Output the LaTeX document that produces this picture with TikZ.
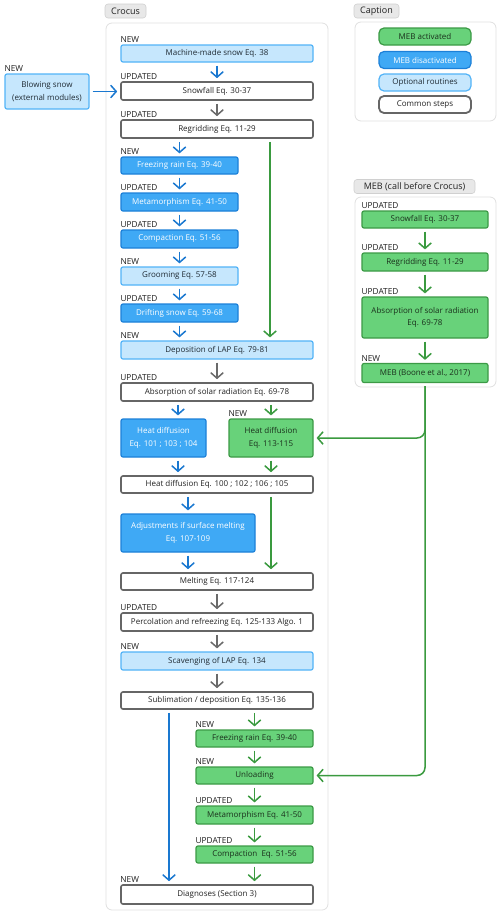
\documentclass[tikz,border=0pt]{standalone}
\usepackage{fontspec}
\setmainfont{Open Sans}
\usetikzlibrary{arrows.meta}
\definecolor{gfill}{HTML}{68D27A}
\definecolor{gborder}{HTML}{3C9A46}
\definecolor{garrow}{HTML}{3A9A3F}
\definecolor{gtext}{HTML}{1A301C}
\definecolor{bfill}{HTML}{3FA9F5}
\definecolor{bborder}{HTML}{1C80D8}
\definecolor{barrow}{HTML}{1A78D0}
\definecolor{lbfill}{HTML}{C6E7FD}
\definecolor{lbborder}{HTML}{52B3F7}
\definecolor{ltext}{HTML}{1F2A33}
\definecolor{cgray}{HTML}{666666}
\definecolor{karrow}{HTML}{6A6A6A}
\definecolor{ctext}{HTML}{222222}
\definecolor{contc}{HTML}{E0E0E0}
\definecolor{tabfill}{HTML}{E8E8E8}
\definecolor{tabdraw}{HTML}{D0D0D0}
\definecolor{tagc}{HTML}{1E1E1E}
\begin{document}
\begin{tikzpicture}[x=1pt,y=-1pt,
  box/.style={rectangle, rounded corners=2pt, inner sep=1pt, align=center,
    font=\fontsize{8}{12.5}\selectfont, minimum height=18pt},
  cbox/.style={box, draw=cgray, line width=1.6pt, fill=white, text=ctext},
  bbox/.style={box, draw=bborder, line width=1.2pt, fill=bfill, text=white},
  lbbox/.style={box, draw=lbborder, line width=1.2pt, fill=lbfill, text=ltext},
  gbox/.style={box, draw=gborder, line width=1.2pt, fill=gfill, text=gtext},
  tag/.style={anchor=south west, inner sep=0pt, font=\fontsize{8.3}{9}\selectfont, text=tagc, yshift=1.6pt},
  tab/.style={rectangle, rounded corners=3pt, draw=tabdraw, fill=tabfill, line width=0.6pt,
    inner sep=1pt, font=\fontsize{9}{10}\selectfont, text=ctext, minimum height=14pt},
  cont/.style={draw=contc, line width=0.8pt, fill=white, rounded corners=6pt},
  arr/.style={-{Straight Barb[length=5.5pt,width=12.5pt]}, line width=1.5pt, shorten <=3pt, shorten >=3pt},
  barr/.style={arr, draw=barrow},
  garr/.style={arr, draw=garrow},
  karr/.style={arr, draw=karrow},
  leg/.style={rounded corners=5pt, minimum width=92pt, minimum height=17pt}
]
\useasboundingbox (0,0) rectangle (500,916);

% containers
\draw[cont] (106,23) rectangle (328,910);
\draw[cont] (355,22) rectangle (496,121);
\draw[cont] (355,197) rectangle (496,387);

% tabs
\node[tab, minimum width=41pt] (tcro) at (125.5,11) {Crocus};
\node[tab, minimum width=45pt] (tcap) at (376.5,11) {Caption};
\node[tab, minimum width=121pt] (tmeb) at (414.5,186.5) {MEB (call before Crocus)};

% coordinates for vertical arrows
\coordinate (cx) at (217,0);
\coordinate (gx) at (270,0);
\coordinate (hx) at (178,0);
\coordinate (sx) at (169,0);

% legend
\node[gbox, leg] (lg1) at (425,36.5) {MEB activated};
\node[bbox, leg] (lg2) at (425,60) {MEB disactivated};
\node[lbbox, leg] (lg3) at (425,82.5) {Optional routines};
\node[cbox, leg, line width=1.8pt] (lg4) at (425,104.5) {Common steps};

% blowing snow
\node[lbbox, minimum width=84pt, minimum height=35pt] (blow) at (47,91.5) {Blowing snow\\(external modules)};
\node[tag] at (blow.north west) {NEW};

% Crocus main column
\node[lbbox, minimum width=192pt, minimum height=17pt] (mms) at (217,53.5) {Machine-made snow Eq. 38};
\node[tag] at (mms.north west) {NEW};
\node[cbox, minimum width=192pt] (snow) at (217,91) {Snowfall Eq. 30-37};
\node[tag] at (snow.north west) {UPDATED};
\node[cbox, minimum width=192pt] (regrid) at (217,129) {Regridding Eq. 11-29};
\node[tag] at (regrid.north west) {UPDATED};
\node[bbox, minimum width=117pt, minimum height=17pt] (frz) at (179.5,165.5) {Freezing rain Eq. 39-40};
\node[tag] at (frz.north west) {NEW};
\node[bbox, minimum width=117pt] (meta) at (179.5,202) {Metamorphism Eq. 41-50};
\node[tag] at (meta.north west) {UPDATED};
\node[bbox, minimum width=117pt] (comp) at (179.5,239) {Compaction Eq. 51-56};
\node[tag] at (comp.north west) {UPDATED};
\node[lbbox, minimum width=117pt] (groom) at (179.5,276) {Grooming Eq. 57-58};
\node[tag] at (groom.north west) {NEW};
\node[bbox, minimum width=117pt] (drift) at (179.5,313) {Drifting snow Eq. 59-68};
\node[tag] at (drift.north west) {UPDATED};
\node[lbbox, minimum width=192pt] (lap) at (217,350) {Deposition of LAP Eq. 79-81};
\node[tag] at (lap.north west) {NEW};
\node[cbox, minimum width=192pt] (abs) at (217,392) {Absorption of solar radiation Eq. 69-78};
\node[tag] at (abs.north west) {UPDATED};
\node[bbox, minimum width=85pt, minimum height=38pt] (hdb) at (163.5,438) {Heat diffusion\\Eq. 101 ; 103 ; 104};
\node[gbox, minimum width=84pt, minimum height=38pt] (hdg) at (271,438) {Heat diffusion\\Eq. 113-115};
\node[tag] at (hdg.north west) {NEW};
\node[cbox, minimum width=192pt, minimum height=17pt] (hd) at (217,484.5) {Heat diffusion Eq. 100 ; 102 ; 106 ; 105};
\node[bbox, minimum width=134pt, minimum height=38pt] (adj) at (188,533) {Adjustments if surface melting\\Eq. 107-109};
\node[cbox, minimum width=192pt, minimum height=17pt] (melt) at (217,581.5) {Melting Eq. 117-124};
\node[cbox, minimum width=192pt] (perc) at (217,622) {Percolation and refreezing Eq. 125-133 Algo. 1};
\node[tag] at (perc.north west) {UPDATED};
\node[lbbox, minimum width=192pt] (scav) at (217,661) {Scavenging of LAP Eq. 134};
\node[tag] at (scav.north west) {NEW};
\node[cbox, minimum width=192pt, minimum height=17pt] (subl) at (217,700.5) {Sublimation / deposition Eq. 135-136};
\node[gbox, minimum width=117pt, minimum height=17pt] (frzg) at (254.5,738.5) {Freezing rain Eq. 39-40};
\node[tag] at (frzg.north west) {NEW};
\node[gbox, minimum width=117pt, minimum height=17pt] (unl) at (254.5,775.5) {Unloading};
\node[tag] at (unl.north west) {NEW};
\node[gbox, minimum width=117pt] (metag) at (254.5,815) {Metamorphism Eq. 41-50};
\node[tag] at (metag.north west) {UPDATED};
\node[gbox, minimum width=117pt, minimum height=17pt] (compg) at (254.5,854.5) {Compaction\ \ Eq. 51-56};
\node[tag] at (compg.north west) {UPDATED};
\node[cbox, minimum width=192pt, minimum height=19pt] (diag) at (217,894.5) {Diagnoses (Section 3)};
\node[tag] at (diag.north west) {NEW};

% MEB column
\node[gbox, minimum width=126pt, minimum height=17pt] (snowm) at (425,219.5) {Snowfall Eq. 30-37};
\node[tag] at (snowm.north west) {UPDATED};
\node[gbox, minimum width=126pt] (regm) at (425,262) {Regridding Eq. 11-29};
\node[tag] at (regm.north west) {UPDATED};
\node[gbox, minimum width=126pt, minimum height=41pt] (absm) at (425,317.5) {Absorption of solar radiation\\Eq. 69-78};
\node[tag] at (absm.north west) {UPDATED};
\node[gbox, minimum width=126pt, minimum height=19pt] (meb) at (425,373) {MEB (Boone et al., 2017)};
\node[tag] at (meb.north west) {NEW};

% arrows
\draw[barr] (blow.east) -- (snow.west |- blow.east);
\draw[barr] (mms.south -| cx) -- (snow.north -| cx);
\draw[karr] (snow.south -| cx) -- (regrid.north -| cx);
\draw[barr] (regrid.south -| frz.north) -- (frz.north);
\draw[barr] (frz.south) -- (meta.north);
\draw[barr] (meta.south) -- (comp.north);
\draw[barr] (comp.south) -- (groom.north);
\draw[barr] (groom.south) -- (drift.north);
\draw[barr] (drift.south) -- (lap.north -| drift.south);
\draw[garr] (regrid.south -| gx) -- (lap.north -| gx);
\draw[karr] (lap.south -| cx) -- (abs.north -| cx);
\draw[barr] (abs.south -| hx) -- (hdb.north -| hx);
\draw[garr] (abs.south -| hdg.north) -- (hdg.north);
\draw[barr] (hdb.south -| hx) -- (hd.north -| hx);
\draw[garr] (hdg.south) -- (hd.north -| hdg.south);
\draw[barr] (hd.south -| adj.north) -- (adj.north);
\draw[garr] (hd.south -| hdg.south) -- (melt.north -| hdg.south);
\draw[barr] (adj.south) -- (melt.north -| adj.south);
\draw[karr] (melt.south -| cx) -- (perc.north -| cx);
\draw[karr] (perc.south -| cx) -- (scav.north -| cx);
\draw[karr] (scav.south -| cx) -- (subl.north -| cx);
\draw[garr] (subl.south -| frzg.north) -- (frzg.north);
\draw[garr] (frzg.south) -- (unl.north);
\draw[garr] (unl.south) -- (metag.north);
\draw[garr] (metag.south) -- (compg.north);
\draw[garr] (compg.south) -- (diag.north -| compg.south);
\draw[barr] (subl.south -| sx) -- (diag.north -| sx);
\draw[garr] (snowm.south) -- (regm.north);
\draw[garr] (regm.south) -- (absm.north);
\draw[garr] (absm.south) -- (meb.north);
\draw[garr, rounded corners=8pt] (meb.south) |- (hdg.east);
\draw[garr, rounded corners=8pt] (meb.south) |- (unl.east);
\end{tikzpicture}
\end{document}
